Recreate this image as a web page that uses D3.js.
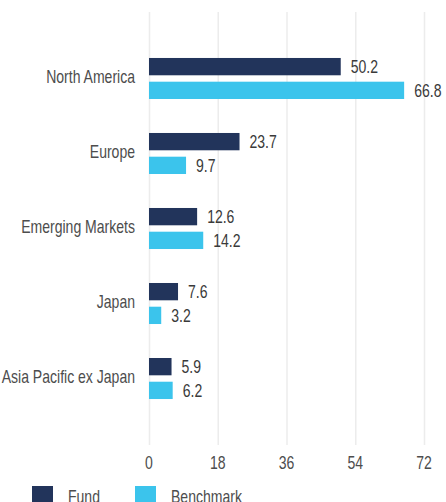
<!DOCTYPE html>
<html>
  <head>
    <title>Regional allocation</title>
    <script src="https://d3js.org/d3.v7.min.js"></script>
    <style>
      body { margin: 0; background: white; }
      text {
        font-family: "Liberation Sans", Arial, sans-serif;
        font-size: 18px;
        fill: #4d4d4d;
      }
    </style>
  </head>
  <body>
    <script>
      let width = 446, height = 502;

      let regions = ["North America", "Europe", "Emerging Markets", "Japan", "Asia Pacific ex Japan"];
      let series = ["Fund", "Benchmark"];
      let fund = [50.2, 23.7, 12.6, 7.6, 5.9];
      let benchmark = [66.8, 9.7, 14.2, 3.2, 6.2];
      let ticks = [0, 18, 36, 54, 72];
      let colors = ["#22345b", "#3bc4ec"];

      let values = [fund, benchmark];
      let squeeze = 0.78; // narrow the font horizontally, like the condensed face

      let svg = d3.select("body").append("svg")
                  .attr("width", width).attr("height", height);

      function place(sel, fx, fy) {
          return sel.attr("transform", (d, i) => "translate(" + fx(d, i) + "," + fy(d, i) + ") scale(" + squeeze + ",1)");
      }

      let x = d3.scaleLinear().domain([0, 72]).range([149, 424]);
      let y = d3.scaleBand().domain(regions).range([12, 445])
                .paddingInner(0.453).paddingOuter(0.613);
      let ySub = d3.scaleBand().domain(series).range([0, y.bandwidth()]).paddingInner(0.27);

      // grid lines
      svg.append("g").selectAll("line").data(ticks).enter().append("line")
         .attr("x1", d => x(d) + 0.5).attr("x2", d => x(d) + 0.5)
         .attr("y1", 12).attr("y2", 445)
         .attr("stroke", "#ececec").attr("stroke-width", 1.5);

      // tick labels
      place(svg.append("g").selectAll("text").data(ticks).enter().append("text"),
            d => x(d), d => 469)
         .attr("text-anchor", "middle")
         .text(d => d);

      // category labels
      place(svg.append("g").selectAll("text").data(regions).enter().append("text"),
            d => 135, d => y(d) + y.bandwidth() / 2 - 2)
         .attr("dy", "0.35em")
         .attr("text-anchor", "end")
         .text(d => d);

      // bars
      let groups = svg.append("g").selectAll("g").data(regions).enter().append("g")
                      .attr("transform", d => "translate(0," + y(d) + ")");

      groups.each(function(region, i) {
          let g = d3.select(this);
          series.forEach(function(s, j) {
              let v = values[j][i];
              g.append("rect")
               .attr("x", x(0)).attr("y", ySub(s))
               .attr("width", x(v) - x(0)).attr("height", ySub.bandwidth())
               .attr("fill", colors[j]);
              g.append("text")
               .attr("transform", "translate(" + (x(v) + 10) + "," + (ySub(s) + ySub.bandwidth() / 2) + ") scale(" + squeeze + ",1)")
               .attr("dy", "0.35em")
               .style("fill", "#3a3a3a")
               .text(v.toFixed(1));
          });
      });

      // legend
      let legendX = [32, 135];
      let legend = svg.append("g").selectAll("g").data(series).enter().append("g")
                      .attr("transform", (d, i) => "translate(" + legendX[i] + ",486)");
      legend.append("rect").attr("width", 21).attr("height", 21)
            .attr("fill", (d, i) => colors[i]);
      legend.append("text")
            .attr("transform", "translate(36,17) scale(" + squeeze + ",1)")
            .text(d => d);
    </script>
  </body>
</html>
